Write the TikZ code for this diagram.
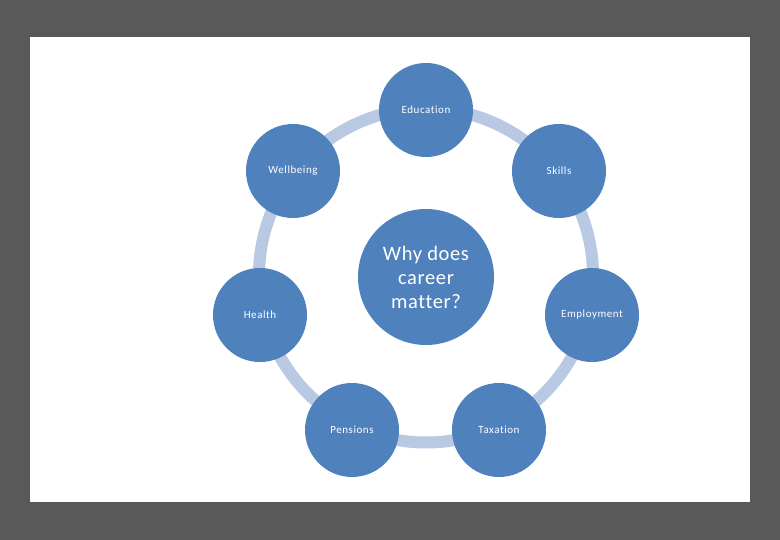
\documentclass[tikz,border=0pt]{standalone}
\usepackage{fontspec}
\setmainfont{Carlito}[Ligatures={NoCommon}]
\definecolor{bg}{HTML}{595959}
\definecolor{nodeblue}{HTML}{4F81BD}
\definecolor{ringblue}{HTML}{B9C9E3}
\begin{document}
\begin{tikzpicture}[x=1pt,y=-1pt,
  outer/.style={circle,fill=nodeblue,minimum size=94pt,inner sep=0pt,text=white,font=\fontsize{11}{13}\selectfont\addfontfeatures{LetterSpace=5}},
  hub/.style={circle,fill=nodeblue,minimum size=136pt,inner sep=0pt,text=white,align=center,font=\fontsize{20.5}{24}\selectfont\addfontfeatures{LetterSpace=3}}]
\fill[bg] (0,0) rectangle (780,540);
\fill[white] (30,37) rectangle (750,502);
\coordinate (c) at (426,275.5);
\draw[ringblue,line width=12pt] (c) circle[radius=167];
\node[hub] (hub) at (426,277) {Why does\\career\\matter?};
\node[outer] (edu) at (426,110) {Education};
\node[outer] (skl) at (559,171) {Skills};
\node[outer] (emp) at (592,315) {Employment};
\node[outer] (tax) at (499,430) {Taxation};
\node[outer] (pen) at (352,430) {Pensions};
\node[outer] (hea) at (260,315) {Health};
\node[outer] (wel) at (293,171) {Wellbeing};
\end{tikzpicture}
\end{document}
